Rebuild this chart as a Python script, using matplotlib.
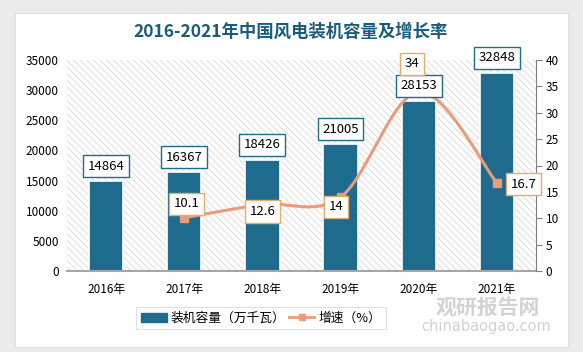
import numpy as np
import matplotlib
matplotlib.use("Agg")
import matplotlib.pyplot as plt
from matplotlib.patches import Rectangle
from matplotlib.lines import Line2D
from matplotlib.patches import Patch

plt.rcParams['font.family'] = ['Noto Sans CJK SC', 'DejaVu Sans']
plt.rcParams['hatch.linewidth'] = 0.6

# ---- data ----
years = ["2016年", "2017年", "2018年", "2019年", "2020年", "2021年"]
capacity = [14864, 16367, 18426, 21005, 28153, 32848]
growth_years = [1, 2, 3, 4, 5]          # index of years that have a growth rate
growth = [10.1, 12.6, 14, 34, 16.7]

bar_color = "#1F6B8E"
line_color = "#E99B7B"
title_color = "#1B5C7B"


def smooth_curve(xs, ys, sx, sy, n=40):
    # Catmull-Rom style smoothing (like Excel's smoothed line), done in pixel space
    px = np.asarray(xs, float) * sx
    py = np.asarray(ys, float) * sy
    outx, outy = [], []
    for i in range(len(px) - 1):
        p0 = (px[max(i - 1, 0)], py[max(i - 1, 0)])
        p1 = (px[i], py[i])
        p2 = (px[i + 1], py[i + 1])
        p3 = (px[min(i + 2, len(px) - 1)], py[min(i + 2, len(px) - 1)])
        c1 = (p1[0] + (p2[0] - p0[0]) / 6, p1[1] + (p2[1] - p0[1]) / 6)
        c2 = (p2[0] - (p3[0] - p1[0]) / 6, p2[1] - (p3[1] - p1[1]) / 6)
        t = np.linspace(0, 1, n)
        bx = (1-t)**3*p1[0] + 3*(1-t)**2*t*c1[0] + 3*(1-t)*t**2*c2[0] + t**3*p2[0]
        by = (1-t)**3*p1[1] + 3*(1-t)**2*t*c1[1] + 3*(1-t)*t**2*c2[1] + t**3*p2[1]
        outx.extend(bx)
        outy.extend(by)
    return np.array(outx) / sx, np.array(outy) / sy


fig = plt.figure(figsize=(5.83, 3.52), dpi=100, facecolor="#ebebeb")
fig.patches.append(Rectangle((15 / 583, 1 - 347 / 352), 553 / 583, 334 / 352,
                             transform=fig.transFigure, facecolor="white",
                             edgecolor="#e0e0e0", lw=0.8, zorder=-5))

ax = fig.add_axes([67 / 583, 1 - 271 / 352, 469 / 583, 211 / 352])
ax.set_facecolor("none")
ax.add_patch(Rectangle((0, 0), 1, 1, transform=ax.transAxes, facecolor="white",
                       edgecolor="#d8d8d8", hatch="\\\\\\\\\\", lw=0, zorder=0))

x = np.arange(len(years))
bars = ax.bar(x, capacity, width=0.44, color=bar_color, edgecolor="white",
              linewidth=1.2, zorder=2)
ax.set_xlim(-0.5, len(years) - 0.5)
ax.set_ylim(0, 35000)
ax.set_yticks(np.arange(0, 35001, 5000))
ax.set_xticks(x)
ax.set_xticklabels(years, fontsize=8.5)
ax.tick_params(axis="x", length=0, pad=9)
ax.tick_params(axis="y", length=0, labelsize=8.5, pad=6)
for s in ["top", "right", "left"]:
    ax.spines[s].set_visible(False)
ax.spines["bottom"].set_color("#a6a6a6")
ax.spines["bottom"].set_linewidth(1.5)

ax2 = ax.twinx()
ax2.set_ylim(0, 40)
ax2.set_yticks(np.arange(0, 41, 5))
ax2.tick_params(axis="y", direction="out", length=4, color="#808080",
                labelsize=8.5, pad=3)
for s in ["top", "left", "bottom"]:
    ax2.spines[s].set_visible(False)
ax2.spines["right"].set_color("#808080")

sx = 469 / len(years)
sy = 211 / 40
cx, cy = smooth_curve(growth_years, growth, sx, sy)
ax2.plot(cx, cy, color=line_color, lw=2.2, zorder=3, solid_capstyle="round")
ax2.plot(growth_years, growth, ls="none", marker="s", ms=6, color=line_color,
         zorder=4)

# bar value labels (drawn on ax2 so they sit above the line)
for xi, v in zip(x, capacity):
    ax2.annotate(str(v), (xi, v), xycoords=ax.transData, xytext=(0, 11),
                 textcoords="offset points", ha="center", va="center",
                 fontsize=9.5, zorder=6,
                 bbox=dict(boxstyle="square,pad=0.35", fc="white", ec=bar_color, lw=1))

offsets = [(1.5, 10), (0, -5), (-3.5, -7), (-5, 20), (19, -1)]
for xi, v, off in zip(growth_years, growth, offsets):
    ax2.annotate(f"{v:g}", (xi, v), xytext=off, textcoords="offset points",
                 ha="center", va="center", fontsize=9.5, zorder=7,
                 bbox=dict(boxstyle="square,pad=0.35", fc="white", ec="#E2AE6A", lw=1))

fig.text(0.499, 1 - 32 / 352, "2016-2021年中国风电装机容量及增长率", ha="center",
         va="center", fontsize=12.5, fontweight="bold", color=title_color)

# watermark
fig.text(488 / 583, 1 - 307 / 352, "观研报告网", ha="center", va="center",
         fontsize=15, fontweight="bold", color="#d2d2d2", zorder=1)
fig.text(486 / 583, 1 - 327 / 352, "chinabaogao.com", ha="center", va="center",
         fontsize=10.5, color="#d2d2d2", zorder=1, family="DejaVu Sans")

handles = [Patch(facecolor=bar_color, edgecolor=bar_color),
           Line2D([0], [0], color=line_color, lw=2, marker="s", ms=5)]
leg = fig.legend(handles, ["装机容量（万千瓦）", "增速（%）"], loc="center",
                 bbox_to_anchor=(261 / 583, 1 - 318 / 352), ncol=2, fontsize=9.2,
                 frameon=True, fancybox=False, edgecolor="#d9d9d9",
                 handlelength=2.0, handletextpad=0.3, columnspacing=0.3,
                 borderpad=0.35, borderaxespad=0)
leg.get_frame().set_linewidth(0.8)

fig.savefig("out.png", dpi=100, facecolor=fig.get_facecolor())
